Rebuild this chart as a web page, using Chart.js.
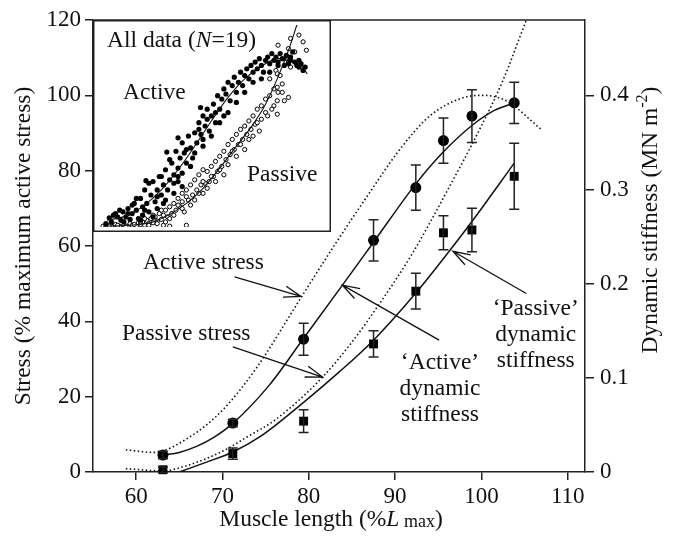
<!DOCTYPE html>
<html>
<head>
<meta charset="utf-8">
<script src="https://cdn.jsdelivr.net/npm/chart.js@4.4.1/dist/chart.umd.min.js"></script>
<style>
  html, body { margin: 0; padding: 0; background: #fff; }
  #wrap { position: relative; width: 679px; height: 539px; }
  #mainChart { position: absolute; left: 0; top: 0; }
  #insetChart { position: absolute; left: 93px; top: 20px; }
</style>
</head>
<body>
<div id="wrap">
  <canvas id="mainChart" width="679" height="539"></canvas>
  <canvas id="insetChart" width="238" height="212"></canvas>
</div>
<script>
// Stress / dynamic stiffness vs muscle length

// Test lengths (% Lmax)
const lengths = [63.1, 71.2, 79.4, 87.5, 92.4, 95.6, 98.9, 103.8];

// Dynamic stiffness, MN m^-2 (mean and error bar half-length)
const activeStiff = [0.018, 0.052, 0.141, 0.246, 0.302, 0.352, 0.378, 0.392];
const activeStiffErr = [0.004, 0.004, 0.017, 0.022, 0.024, 0.024, 0.028, 0.022];
const passiveStiff = [0.0024, 0.0196, 0.054, 0.136, 0.192, 0.254, 0.257, 0.314];
const passiveStiffErr = [0.003, 0.006, 0.012, 0.014, 0.019, 0.018, 0.023, 0.035];

// Fitted stiffness curves (solid lines)
const activeFitX = [63.1, 65, 67, 69, 71.2, 75.4, 79.4, 83.9, 87.5, 92.4, 95.6, 98.9, 101.5, 103.8];
const activeFitY = [0.018, 0.0208, 0.0272, 0.0368, 0.0516, 0.092, 0.142, 0.1984, 0.244, 0.306, 0.34, 0.368, 0.384, 0.392];
const passiveFitX = [65, 68, 71.2, 74.3, 79.4, 83.5, 87.5, 92.4, 96.4, 98.9, 103.8];
const passiveFitY = [0, 0.01, 0.0212, 0.0372, 0.074, 0.106, 0.14, 0.19, 0.236, 0.266, 0.328];

// Stress curves (% maximum active stress, dotted lines)
const activeStressX = [58.8, 62, 66.2, 70, 73.9, 77.8, 79.1, 83.2, 87, 90.5, 94, 97.8, 100.2, 102.9, 106.9];
const activeStressY = [5.9, 5.2, 9.3, 16.4, 27.5, 41.5, 46.3, 61, 74, 85.5, 94.5, 99.3, 100, 98.5, 91];
const passiveStressX = [58.8, 63, 66, 70, 73, 76.2, 81.6, 85, 88.2, 92, 96, 99.8, 102.5, 105.2];
const passiveStressY = [0.9, 0.3, 1.8, 5.5, 9.5, 14, 25.2, 34.5, 44.7, 58, 74.5, 91, 104, 120];

// Tick labels
const xTicks = [60, 70, 80, 90, 100, 110];
const yTicks = [0, 20, 40, 60, 80, 100, 120];
const y2Ticks = [0, 0.1, 0.2, 0.3, 0.4];

// Inset: all data (N=19), length (% Lmax) vs stress (%)
const insetActiveX = [56.7, 57.5, 58.5, 59.5, 60.3, 60.8, 61.5, 62, 62.5, 63, 63.5, 64, 64.5, 65, 65.5, 65.5,
  66, 66.5, 67, 67.5, 68, 68.5, 69, 69, 69.5, 70, 70.5, 70.5, 71, 71.5, 72, 72.5, 73, 73, 73.5, 74, 74, 74.5, 75, 75,
  75.5, 76, 76.5, 77, 77.5, 78, 78.5, 79, 79.5, 80, 80, 80.5, 81, 81.5, 82, 82.5, 83, 83.5, 84, 84.5, 85, 85,
  85.5, 86, 86.5, 87, 87.5, 88, 88.5, 89, 89.5, 90, 90.5, 91, 91.5, 92, 92.5, 93, 93.5, 94, 94.5, 95,
  95.5, 96, 96.5, 97, 97.5, 98, 98.5, 99, 100, 100.5, 101, 101.5, 102, 102.5, 103, 103.5, 104,
  58, 59, 60, 61, 62, 63, 64, 65, 66, 67, 68, 69, 70, 71, 72, 73, 74, 75, 76, 77,
  78, 79, 80, 81, 82, 83, 84, 86, 88, 90, 92, 94, 96, 98, 99.5, 101, 103, 104.5, 66.3, 71.3, 74, 79.4];
const insetActiveY = [2, 5.5, 7, 6, 4, 9, 6, 11, 4.5, 8, 14, 10, 5, 17, 12, 7,
  22, 14, 9, 19, 27, 15, 22, 11, 30, 19, 25, 14, 34, 22, 28, 38, 31, 20, 45, 35, 27, 41, 32, 50,
  44, 38, 54, 47, 41, 56, 50, 62, 55, 48, 66, 60, 70, 57, 66, 73, 62, 78, 70, 76, 82, 66,
  79, 86, 75, 84, 89, 80, 86, 92, 84, 90, 94, 88, 96, 92, 98, 94, 100, 96, 92, 99,
  101, 97, 103, 99, 101, 98, 103, 100, 102, 97, 99, 104, 98, 96, 95, 97, 93,
  3, 8, 10, 3, 8, 13, 17, 4, 10, 26, 6, 18, 30, 16, 40, 26, 30, 24, 46, 36,
  44, 58, 52, 64, 54, 68, 62, 68, 74, 80, 86, 88, 92, 96, 96, 101, 99, 95, 27.5, 44.5, 53, 71];
const insetPassiveX = [56, 57, 58, 59, 60, 61, 62, 62.5, 63, 64, 64.5, 65,
  65.5, 66, 66.5, 67, 67.5, 68, 68.5, 69, 69.5, 70, 70.5, 70.5,
  71, 71.5, 72, 72.5, 73, 73.5, 74, 74.5, 75, 75,
  75.5, 76, 76.5, 77, 77.5, 78, 78.5, 79, 79.5, 80, 80,
  80.5, 81, 81.5, 82, 82.5, 83, 83.5, 84, 84.5, 85,
  85.5, 86, 86.5, 87, 87.5, 88, 88.5, 89, 89.5, 90,
  90.5, 91, 91.5, 92, 92.5, 93, 93.5, 94, 95, 95,
  96, 96, 97, 97.5, 97.8, 97.8, 97.8, 97.8, 98, 98, 98.5, 99, 99.5, 100, 100.5, 100.5, 100.5, 101, 101, 102, 103, 104, 104.8,
  57.5, 59.5, 61.5, 63.5, 65, 66, 67, 68, 69, 70, 71, 72, 73, 74, 75, 76, 77, 78, 79, 80,
  81, 82, 83, 84, 85, 86, 87, 88, 89, 90, 91, 92, 93, 94, 95.5, 96.5, 97, 99, 72, 76];
const insetPassiveY = [0.5, 1, 0.5, 1.5, 0.5, 1, 0.5, 2, 1, 0.5, 2.5, 1.5,
  3, 1, 4, 2, 5, 2.5, 6, 3.5, 8, 4.5, 7, 1,
  10, 6, 12, 8, 14, 10, 17, 12, 20, 15,
  9, 22, 16, 25, 19, 28, 22, 31, 25, 34, 20,
  26, 33, 27, 36, 30, 39, 33, 42, 36, 45,
  40, 49, 43, 52, 46, 55, 49, 58, 52, 60,
  55, 63, 58, 66, 61, 70, 57, 72, 68, 76,
  78, 88, 72, 93, 67, 75, 83, 91, 80, 108, 90, 85, 75, 100, 77, 98, 106, 95, 112, 104, 114, 110, 105,
  0.5, 1, 0.5, 1.5, 3, 5, 1, 7, 2, 10, 3, 5, 7, 13, 11, 18, 13, 16, 20, 27,
  23, 30, 27, 34, 31, 37, 45, 42, 49, 46, 52, 54, 62, 64, 66, 70, 82, 80, 0.5, 1];
const insetActiveFitX = [57, 62, 66, 70, 74, 78, 82, 86, 90, 94, 98, 101, 103.5, 105];
const insetActiveFitY = [4, 7, 13, 22, 34, 48, 63, 77, 88, 95.5, 100, 99.5, 96, 91];
const insetPassiveFitX = [56, 62, 68, 72, 76, 80, 84, 88, 92, 94.8, 97.8, 100.5, 102.5];
const insetPassiveFitY = [0.5, 1, 3, 7.5, 14, 23, 35, 48, 61, 72, 88, 105, 120];

const SERIF = "'Liberation Serif', 'DejaVu Serif', serif";
const INK = '#111';
const AXIS = '#222';
const FONT = '23.5px ' + SERIF;

const zip = (xs, ys) => xs.map((x, i) => ({ x: x, y: ys[i] }));

// Text labels and arrows, placed in (length, stress %) units
const notes = [
    { lines: ['Active stress'], x: 67.8, y: 55.4 },
    { lines: ['Passive stress'], x: 65.8, y: 36.8 },
    { lines: ['\u2018Active\u2019', 'dynamic', 'stiffness'], x: 95.2, y: 29.1 },
    { lines: ['\u2018Passive\u2019', 'dynamic', 'stiffness'], x: 106.3, y: 43.2 }
];
const arrows = [
    { from: [71.4, 51.8], to: [79.1, 46.6] },
    { from: [71.2, 33.2], to: [81.6, 25.2] },
    { from: [95.1, 35], to: [83.9, 49.6] },
    { from: [105.2, 47.4], to: [96.7, 58.6] }
];

function drawArrow(ctx, x1, y1, x2, y2) {
    const a = Math.atan2(y2 - y1, x2 - x1);
    const len = 18, spread = 0.32;
    ctx.beginPath();
    ctx.moveTo(x1, y1);
    ctx.lineTo(x2, y2);
    ctx.moveTo(x2 - len * Math.cos(a - spread), y2 - len * Math.sin(a - spread));
    ctx.lineTo(x2, y2);
    ctx.lineTo(x2 - len * Math.cos(a + spread), y2 - len * Math.sin(a + spread));
    ctx.stroke();
}

// draws a run of text pieces with different fonts, starting at x
function drawRuns(ctx, runs, x, y) {
    runs.forEach(r => {
        ctx.font = r.font;
        ctx.fillText(r.text, x, y + (r.dy || 0));
        x += ctx.measureText(r.text).width;
    });
}
function runsWidth(ctx, runs) {
    let w = 0;
    runs.forEach(r => { ctx.font = r.font; w += ctx.measureText(r.text).width; });
    return w;
}

// Error bars from the dataset's errors array
const errorBars = {
    id: 'errorBars',
    afterDatasetsDraw(chart) {
        const ctx = chart.ctx;
        const xs = chart.scales.x, ys = chart.scales.y2;
        ctx.save();
        ctx.strokeStyle = AXIS;
        ctx.lineWidth = 1.5;
        chart.data.datasets.forEach(ds => {
            if (!ds.errors) return;
            ds.data.forEach((p, i) => {
                const px = xs.getPixelForValue(p.x);
                const top = ys.getPixelForValue(p.y + ds.errors[i]);
                const bot = ys.getPixelForValue(p.y - ds.errors[i]);
                ctx.beginPath();
                ctx.moveTo(px, top); ctx.lineTo(px, bot);
                ctx.moveTo(px - 5, top); ctx.lineTo(px + 5, top);
                ctx.moveTo(px - 5, bot); ctx.lineTo(px + 5, bot);
                ctx.stroke();
            });
        });
        ctx.restore();
    }
};

// Frame top, axis titles, notes and arrows
const decor = {
    id: 'decor',
    afterDraw(chart) {
        const ctx = chart.ctx;
        const area = chart.chartArea;
        const xs = chart.scales.x, ys = chart.scales.y;
        ctx.save();

        ctx.strokeStyle = AXIS;
        ctx.lineWidth = 1.5;
        ctx.beginPath();
        ctx.moveTo(area.left, area.top);
        ctx.lineTo(area.right, area.top);
        ctx.stroke();

        ctx.fillStyle = INK;
        ctx.textBaseline = 'alphabetic';
        ctx.textAlign = 'left';

        // x title
        const xRuns = [
            { text: 'Muscle length (%', font: FONT },
            { text: 'L', font: 'italic ' + FONT },
            { text: ' max', font: '18px ' + SERIF, dy: 1 },
            { text: ')', font: FONT }
        ];
        drawRuns(ctx, xRuns, 331 - runsWidth(ctx, xRuns) / 2, 526);

        // left title
        ctx.save();
        ctx.translate(30, 246);
        ctx.rotate(-Math.PI / 2);
        ctx.font = FONT;
        ctx.textAlign = 'center';
        ctx.fillText('Stress (% maximum active stress)', 0, 0);
        ctx.restore();

        // right title
        ctx.save();
        ctx.translate(657, 220);
        ctx.rotate(-Math.PI / 2);
        const rRuns = [
            { text: 'Dynamic stiffness (MN m', font: FONT },
            { text: '-2', font: '16px ' + SERIF, dy: -10 },
            { text: ')', font: FONT }
        ];
        drawRuns(ctx, rRuns, -runsWidth(ctx, rRuns) / 2, 0);
        ctx.restore();

        // notes
        ctx.font = FONT;
        ctx.textAlign = 'center';
        ctx.textBaseline = 'middle';
        notes.forEach(n => {
            const px = xs.getPixelForValue(n.x);
            const py = ys.getPixelForValue(n.y);
            n.lines.forEach((t, i) => ctx.fillText(t, px, py + i * 26));
        });

        ctx.strokeStyle = INK;
        ctx.lineWidth = 1.3;
        arrows.forEach(a => {
            drawArrow(ctx,
                xs.getPixelForValue(a.from[0]), ys.getPixelForValue(a.from[1]),
                xs.getPixelForValue(a.to[0]), ys.getPixelForValue(a.to[1]));
        });
        ctx.restore();
    }
};

const axisStyle = (tickLength) => ({
    grid: { drawOnChartArea: false, drawTicks: true, tickLength: tickLength, color: AXIS, lineWidth: 1.5 },
    border: { display: true, color: AXIS, width: 1.5 }
});
const tickFont = { family: SERIF, size: 23 };

const curve = (xs, ys, axis, dashed) => ({
    data: zip(xs, ys),
    yAxisID: axis,
    showLine: true,
    borderColor: INK,
    borderWidth: dashed ? 1.6 : 1.5,
    borderDash: dashed ? [1.5, 2.5] : [],
    pointRadius: 0,
    cubicInterpolationMode: 'monotone',
    fill: false
});

new Chart(document.getElementById('mainChart'), {
    type: 'scatter',
    data: {
        datasets: [
            {
                data: zip(lengths, activeStiff),
                errors: activeStiffErr,
                yAxisID: 'y2',
                pointStyle: 'circle',
                pointRadius: 5.5,
                backgroundColor: '#000',
                borderWidth: 0,
                clip: false
            },
            {
                data: zip(lengths, passiveStiff),
                errors: passiveStiffErr,
                yAxisID: 'y2',
                pointStyle: 'rect',
                pointRadius: 6.3,
                backgroundColor: '#000',
                borderWidth: 0,
                clip: false
            },
            curve(activeFitX, activeFitY, 'y2', false),
            curve(passiveFitX, passiveFitY, 'y2', false),
            curve(activeStressX, activeStressY, 'y', true),
            curve(passiveStressX, passiveStressY, 'y', true)
        ]
    },
    options: {
        responsive: false,
        animation: false,
        devicePixelRatio: 1,
        events: [],
        layout: { padding: { top: 20, left: 0, right: 0, bottom: 0 } },
        plugins: { legend: { display: false }, tooltip: { enabled: false } },
        scales: {
            x: {
                type: 'linear',
                position: 'bottom',
                min: 55,
                max: 112,
                afterBuildTicks: s => { s.ticks = xTicks.map(v => ({ value: v })); },
                afterFit: s => { s.height = 67; },
                ticks: { font: tickFont, color: INK, padding: 3, maxRotation: 0 },
                ...axisStyle(8)
            },
            y: {
                position: 'left',
                min: 0,
                max: 120,
                afterBuildTicks: s => { s.ticks = yTicks.map(v => ({ value: v })); },
                afterFit: s => { s.width = 93; },
                ticks: { font: tickFont, color: INK, padding: 4 },
                ...axisStyle(8)
            },
            y2: {
                position: 'right',
                min: 0,
                max: 0.48,
                afterBuildTicks: s => { s.ticks = y2Ticks.map(v => ({ value: v })); },
                afterFit: s => { s.width = 94; },
                ticks: {
                    font: tickFont, color: INK, padding: 6,
                    callback: v => v === 0 ? '0' : v.toFixed(1)
                },
                ...axisStyle(9)
            }
        }
    },
    plugins: [errorBars, decor]
});

// Inset with all individual data points
const insetDecor = {
    id: 'insetDecor',
    beforeDraw(chart) {
        const ctx = chart.ctx;
        ctx.save();
        ctx.fillStyle = '#fff';
        ctx.fillRect(0, 0, chart.width, chart.height);
        ctx.restore();
    },
    afterDraw(chart) {
        const ctx = chart.ctx;
        const w = chart.width, h = chart.height;
        ctx.save();
        ctx.strokeStyle = AXIS;
        ctx.lineWidth = 1.5;
        ctx.strokeRect(0.75, 0.75, w - 1.5, h - 1.5);

        ctx.fillStyle = INK;
        ctx.textBaseline = 'middle';
        ctx.textAlign = 'left';
        drawRuns(ctx, [
            { text: 'All data (', font: FONT },
            { text: 'N', font: 'italic ' + FONT },
            { text: '=19)', font: FONT }
        ], 14, 21);
        ctx.font = FONT;
        ctx.fillText('Active', 30, 73);
        ctx.fillText('Passive', 154, 155);
        ctx.restore();
    }
};

new Chart(document.getElementById('insetChart'), {
    type: 'scatter',
    data: {
        datasets: [
            {
                data: zip(insetActiveFitX, insetActiveFitY),
                showLine: true, borderColor: INK, borderWidth: 1.1, pointRadius: 0,
                cubicInterpolationMode: 'monotone'
            },
            {
                data: zip(insetPassiveFitX, insetPassiveFitY),
                showLine: true, borderColor: INK, borderWidth: 1.1, pointRadius: 0,
                cubicInterpolationMode: 'monotone'
            },
            {
                data: zip(insetActiveX, insetActiveY),
                pointRadius: 2.6, backgroundColor: '#000', borderWidth: 0
            },
            {
                data: zip(insetPassiveX, insetPassiveY),
                pointRadius: 2.1, backgroundColor: '#fff', borderColor: '#000', borderWidth: 1
            }
        ]
    },
    options: {
        responsive: false,
        animation: false,
        devicePixelRatio: 1,
        events: [],
        layout: { padding: 0 },
        plugins: { legend: { display: false }, tooltip: { enabled: false } },
        scales: {
            x: { type: 'linear', min: 54.8, max: 109.5, display: false },
            y: { min: 0, max: 120, display: false }
        }
    },
    plugins: [insetDecor]
});
</script>
</body>
</html>
